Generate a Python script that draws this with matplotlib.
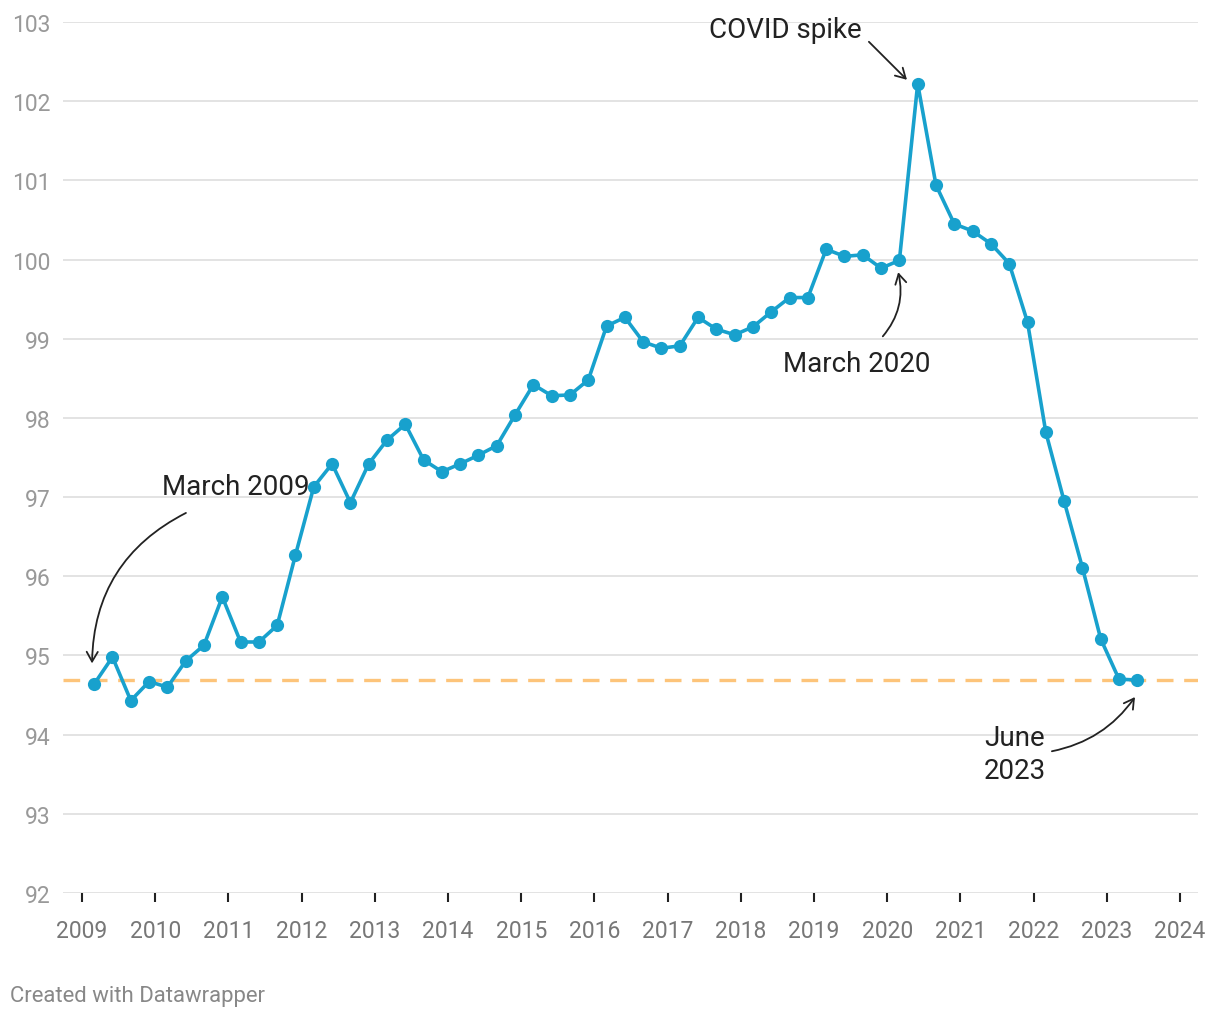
import matplotlib
matplotlib.use("Agg")
import matplotlib.pyplot as plt
import numpy as np

plt.rcParams['font.family'] = ['Roboto', 'DejaVu Sans']

# Quarterly values, March 2009 .. June 2023
start_year = 2009
start_month = 3
values = [94.64, 94.98, 94.43, 94.67, 94.60, 94.93, 95.13, 95.74,
          95.17, 95.17, 95.38, 96.27, 97.13, 97.42, 96.93, 97.42,
          97.72, 97.92, 97.47, 97.32, 97.42, 97.53, 97.65, 98.04,
          98.42, 98.28, 98.29, 98.48, 99.16, 99.27, 98.96, 98.88,
          98.91, 99.27, 99.12, 99.05, 99.15, 99.34, 99.52, 99.52,
          100.13, 100.04, 100.06, 99.89, 99.99, 102.22, 100.94, 100.45,
          100.36, 100.20, 99.95, 99.21, 97.82, 96.95, 96.11, 95.21,
          94.70, 94.69]
reference_level = 94.69
year_ticks = list(range(2009, 2025))
y_ticks = list(range(92, 104))

months = [start_month + 3 * i for i in range(len(values))]
x = np.array([start_year + (m - 1) / 12 for m in months])

W, H = 1220, 1020
fig = plt.figure(figsize=(W / 100, H / 100), dpi=100)
left_px, right_px, top_px, bottom_px = 63, 1198, 23, 894
ax = fig.add_axes([left_px / W, 1 - bottom_px / H,
                   (right_px - left_px) / W, (bottom_px - top_px) / H])

px_per_year = 73.2
ax.set_xlim(2009 - (82 - left_px) / px_per_year, 2024 + (right_px - 1180) / px_per_year)
ax.set_ylim(92, 103)

for yv in y_ticks:
    ax.axhline(yv, color='#e3e3e3', lw=1.4, zorder=0)

ax.axhline(reference_level, color='#fdc47a', lw=2.4, dashes=(5, 3.2), zorder=1)

ax.plot(x, values, color='#18a1cd', lw=2.6, marker='o', markersize=9.5,
        markeredgewidth=0, zorder=3, solid_joinstyle='round')

for s in ax.spines.values():
    s.set_visible(False)

ax.set_xticks(year_ticks)
ax.set_xticklabels([str(y) for y in year_ticks])
ax.set_yticks(y_ticks)
ax.set_yticklabels([str(y) for y in y_ticks])
ax.tick_params(axis='x', length=6.5, width=1.5, color='#222222', pad=12,
               labelsize=16.5, labelcolor='#777777')
ax.tick_params(axis='y', length=0, pad=9, labelsize=16.5, labelcolor='#999999')

text_kw = dict(fontsize=20, color='#222222')
ax.text(2010.09, 97.14, 'March 2009', ha='left', va='center', **text_kw)
ax.text(2017.57, 102.90, 'COVID spike', ha='left', va='center', **text_kw)
ax.text(2018.58, 98.69, 'March 2020', ha='left', va='center', **text_kw)
ax.text(2021.32, 93.75, 'June\n2023', ha='left', va='center', linespacing=1.28, **text_kw)

arrow_kw = dict(arrowstyle='->,head_length=0.7,head_width=0.4', color='#222222', lw=1.3,
                shrinkA=0, shrinkB=0)
ax.annotate('', xy=(2009.137, 94.90), xytext=(2010.42, 96.80),
            arrowprops=dict(connectionstyle='arc3,rad=0.3', **arrow_kw))
ax.annotate('', xy=(2023.385, 94.475), xytext=(2022.25, 93.79),
            arrowprops=dict(connectionstyle='arc3,rad=0.2', **arrow_kw))
ax.annotate('', xy=(2020.15, 99.84), xytext=(2019.94, 99.03),
            arrowprops=dict(connectionstyle='arc3,rad=0.25', **arrow_kw))
ax.annotate('', xy=(2020.27, 102.27), xytext=(2019.75, 102.75),
            arrowprops=dict(connectionstyle='arc3,rad=0', **arrow_kw))

fig.text(10 / W, 1 - 997 / H, 'Created with Datawrapper', ha='left', va='center',
         fontsize=15.9, color='#888888')

fig.savefig('out.png', dpi=100, facecolor='white')
